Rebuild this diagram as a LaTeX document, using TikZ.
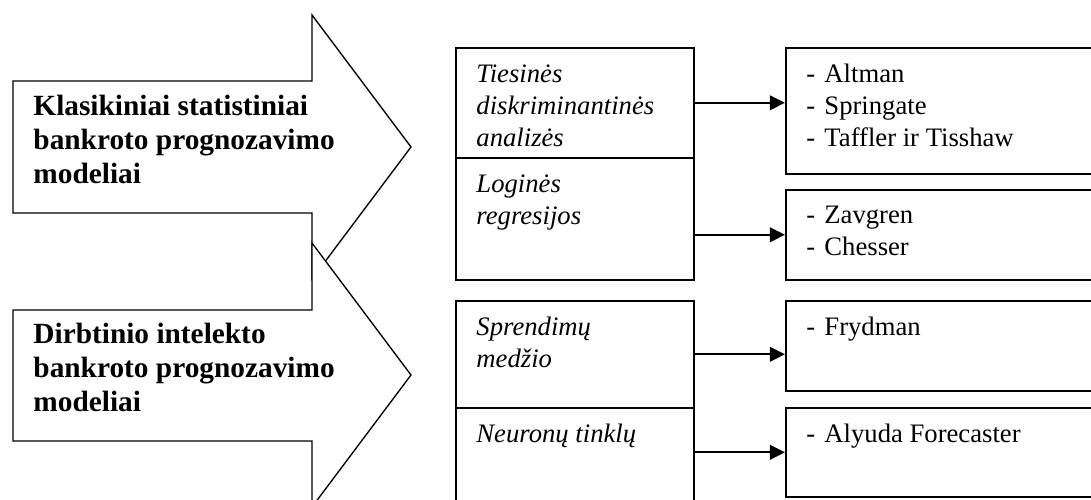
\documentclass[tikz,border=0pt]{standalone}
\usepackage{fontspec}
\setmainfont{Liberation Serif}
\usetikzlibrary{arrows.meta}

\tikzset{
  bigarrow/.style={draw, line width=.6pt, fill=white},
  lbox/.style={draw, line width=.7pt, inner sep=0pt, anchor=north west, minimum width=107.1pt},
  rbox/.style={draw, line width=.7pt, inner sep=0pt, anchor=north west, minimum width=141.75pt},
  btxt/.style={anchor=north west, inner sep=0pt, align=left, font=\fontsize{13.2}{15.3}\selectfont\bfseries},
  itxt/.style={anchor=north west, inner sep=0pt, align=left, font=\fontsize{12}{14.4}\selectfont\itshape},
  ntxt/.style={anchor=north west, inner sep=0pt, align=left, font=\fontsize{12}{14.4}\selectfont},
  conn/.style={line width=1pt, -{Triangle[length=6.8pt,width=6.5pt]}}
}
\newcommand{\mdl}[1]{\makebox[8.1pt][l]{-}#1}

\begin{document}
\begin{tikzpicture}[x=.45pt,y=-.45pt]
  \useasboundingbox (0,0) rectangle (1091,499);
  \clip (0,0) rectangle (1091,499);

  % big arrows
  \draw [bigarrow] (13,81) -- (312,81) -- (312,15) -- (411,147) -- (312,279) -- (312,213) -- (13,213) -- cycle;
  \draw [bigarrow] (13,310) -- (312,310) -- (312,243) -- (411,375) -- (312,507) -- (312,441) -- (13,441) -- cycle;
  \node [btxt] (kls) at (33,95) {Klasikiniai statistiniai\\bankroto prognozavimo\\modeliai};
  \node [btxt] (dir) at (33,323) {Dirbtinio intelekto\\bankroto prognozavimo\\modeliai};

  % method boxes
  \node [lbox, minimum height=49.5pt] (tda) at (455,47) {};
  \node [lbox, minimum height=54.9pt] (lr) at (455,157) {};
  \node [lbox, minimum height=48.15pt] (sm) at (455,300) {};
  \node [lbox, minimum height=48.6pt] (nt) at (455,407) {};
  \node [itxt] (tdaTxt) at ([shift={(21,17)}]tda.north west) {Tiesinės\\diskriminantinės\\analizės};
  \node [itxt] (lrTxt) at ([shift={(21,17)}]lr.north west) {Loginės\\regresijos};
  \node [itxt] (smTxt) at ([shift={(21,17)}]sm.north west) {Sprendimų\\medžio};
  \node [itxt] (ntTxt) at ([shift={(21,17)}]nt.north west) {Neuronų tinklų};

  % model boxes
  \node [rbox, minimum height=56.7pt] (alt) at (785,47) {};
  \node [rbox, minimum height=40.5pt] (zav) at (785,189) {};
  \node [rbox, minimum height=40.5pt] (fry) at (785,300) {};
  \node [rbox, minimum height=40.05pt] (aly) at (785,407) {};
  \node [ntxt] (altTxt) at ([shift={(21,17)}]alt.north west) {\mdl{Altman}\\\mdl{Springate}\\\mdl{Taffler ir Tisshaw}};
  \node [ntxt] (zavTxt) at ([shift={(21,17)}]zav.north west) {\mdl{Zavgren}\\\mdl{Chesser}};
  \node [ntxt] (fryTxt) at ([shift={(21,17)}]fry.north west) {\mdl{Frydman}};
  \node [ntxt] (alyTxt) at ([shift={(21,17)}]aly.north west) {\mdl{Alyuda Forecaster}};

  \draw [conn] (tda.east) -- (tda.east -| alt.west);
  \draw [conn] (lr.east |- zav.west) -- (zav.west);
  \draw [conn] (sm.east) -- (sm.east -| fry.west);
  \draw [conn] (nt.east |- aly.west) -- (aly.west);
\end{tikzpicture}
\end{document}
